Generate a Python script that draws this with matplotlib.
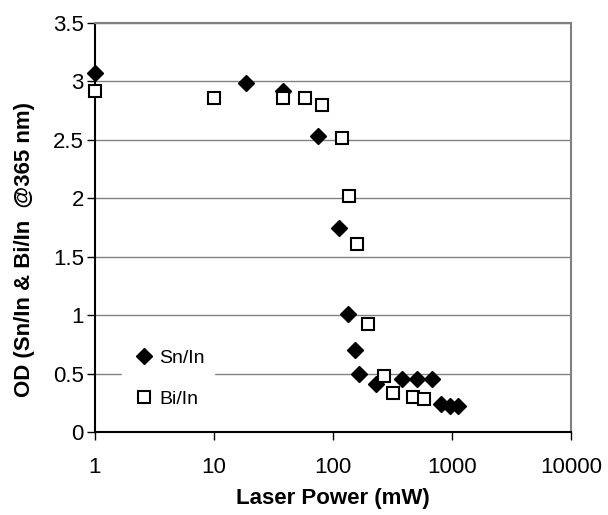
import numpy as np
import matplotlib
matplotlib.use("Agg")
import matplotlib.pyplot as plt

plt.rcParams['font.family'] = ['Liberation Sans', 'DejaVu Sans']

# Sn/In data
sn_power = [1, 18.6, 38, 75, 112, 134, 153, 166, 229, 380, 510, 680, 810, 960, 1120]
sn_od = [3.07, 2.99, 2.92, 2.53, 1.75, 1.01, 0.70, 0.50, 0.41, 0.45, 0.45, 0.45, 0.24, 0.22, 0.22]

# Bi/In data
bi_power = [1, 10, 38, 58, 81, 119, 136, 158, 196, 270, 319, 470, 580]
bi_od = [2.92, 2.86, 2.86, 2.86, 2.80, 2.52, 2.02, 1.61, 0.92, 0.48, 0.33, 0.30, 0.28]

y_ticks = [0, 0.5, 1, 1.5, 2, 2.5, 3, 3.5]
x_ticks = [1, 10, 100, 1000, 10000]

fig = plt.figure(figsize=(6.08, 5.15), dpi=100)
ax = fig.add_axes([95/608, 1 - 432/515, (571-95)/608, (432-23)/515])

ax.set_xscale('log')
ax.set_xlim(1, 10000)
ax.set_ylim(0, 3.5)

for yv in y_ticks[1:]:
    ax.axhline(yv, color='#808080', lw=1, zorder=1)

ax.plot(sn_power, sn_od, linestyle='none', marker='D', ms=8, mfc='black',
        mec='black', label='Sn/In', zorder=3, clip_on=False)
ax.plot(bi_power, bi_od, linestyle='none', marker='s', ms=9, mfc='white',
        mec='black', mew=1.5, label='Bi/In', zorder=3, clip_on=False)

ax.set_xticks(x_ticks)
ax.set_xticklabels(['1', '10', '100', '1000', '10000'])
ax.xaxis.set_minor_locator(matplotlib.ticker.NullLocator())
ax.set_yticks(y_ticks)
ax.set_yticklabels(['0', '0.5', '1', '1.5', '2', '2.5', '3', '3.5'])
ax.tick_params(axis='both', labelsize=16, length=6, width=1, direction='out')
ax.tick_params(axis='x', pad=12)
ax.tick_params(axis='y', pad=2)

for s in ['left', 'bottom']:
    ax.spines[s].set_color('black')
    ax.spines[s].set_linewidth(1.5)
for s in ['top', 'right']:
    ax.spines[s].set_color('#808080')
    ax.spines[s].set_linewidth(1.5)

ax.set_xlabel('Laser Power (mW)', fontsize=16, fontweight='bold')
ax.xaxis.set_label_coords(0.5, -0.137)
ax.set_ylabel('OD (Sn/In & Bi/In  @365 nm)', fontsize=16, fontweight='bold')
ax.yaxis.set_label_coords(-0.125, 0.447)

leg = ax.legend(loc='lower left', bbox_to_anchor=(0.057, 0.035), frameon=True,
                fontsize=14, handletextpad=0.1, handlelength=1.3, borderpad=0.5,
                labelspacing=1.2, borderaxespad=0)
leg.get_frame().set_edgecolor('white')
leg.get_frame().set_facecolor('white')
leg.get_frame().set_alpha(1)
leg.get_frame().set_boxstyle('square', pad=0)

fig.savefig('out.png', dpi=100)
